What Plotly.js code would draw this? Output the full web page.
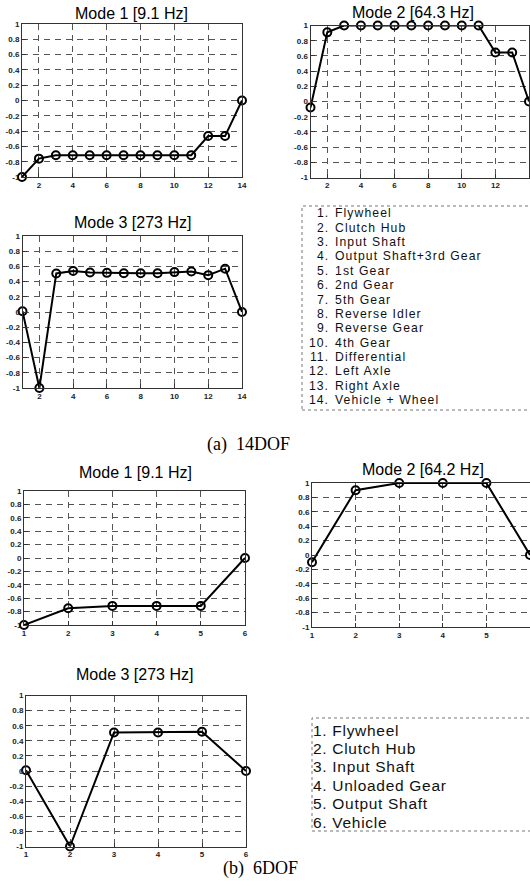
<!DOCTYPE html>
<html>
<head>
<meta charset="utf-8">
<script src="https://cdn.plot.ly/plotly-3.0.1.min.js"></script>
<style>html,body{margin:0;padding:0;background:#fff;overflow:hidden}#chart{width:530px;height:883px}</style>
</head>
<body>
<div id="chart"></div>
<script>
// ---------- data ----------
const dof14 = [1,2,3,4,5,6,7,8,9,10,11,12,13,14];
const mode1_14 = [-1, -0.76, -0.715, -0.715, -0.715, -0.715, -0.715, -0.715, -0.715, -0.715, -0.715, -0.465, -0.465, 0];
const mode2_14 = [-0.08, 0.91, 1, 1, 1, 1, 1, 1, 1, 1, 1, 0.645, 0.645, 0];
const mode3_14 = [0.01, -1, 0.507, 0.54, 0.52, 0.515, 0.51, 0.51, 0.51, 0.525, 0.533, 0.485, 0.57, 0];

const dof6 = [1,2,3,4,5,6];
const mode1_6 = [-1, -0.75, -0.715, -0.715, -0.715, 0];
const mode2_6 = [-0.1, 0.9, 1, 1, 1, 0];
const mode3_6 = [0.01, -1, 0.51, 0.51, 0.52, 0];

const titles14 = ["Mode 1 [9.1 Hz]", "Mode 2 [64.3 Hz]", "Mode 3 [273 Hz]"];
const titles6 = ["Mode 1 [9.1 Hz]", "Mode 2 [64.2 Hz]", "Mode 3 [273 Hz]"];

const names14 = ["Flywheel","Clutch Hub","Input Shaft","Output Shaft+3rd Gear","1st Gear","2nd Gear","5th Gear","Reverse Idler","Reverse Gear","4th Gear","Differential","Left Axle","Right Axle","Vehicle + Wheel"];
const names6 = ["Flywheel","Clutch Hub","Input Shaft","Unloaded Gear","Output Shaft","Vehicle"];

const yTickVals = [1,0.8,0.6,0.4,0.2,0,-0.2,-0.4,-0.6,-0.8,-1];
const yTickText = ["1","0.8","0.6","0.4","0.2","0","-0.2","-0.4","-0.6","-0.8","-1"];
const xTickVals14 = [2,4,6,8,10,12,14];
const xTickText14 = ["2","4","6","8","10","12","14"];
const xTickVals6 = [1,2,3,4,5,6];
const xTickText6 = ["1","2","3","4","5","6"];

const captionA = "(a)  14DOF";
const captionB = "(b)  6DOF";

// ---------- layout helpers ----------
const W = 530, H = 883;
const px = v => v / W;
const py = v => 1 - v / H;

// panel boxes in pixels: [left, right, top, bottom]
const boxes = [
  [22, 242, 24, 177],
  [310.5, 529, 25.5, 177.5],
  [22.5, 242, 236, 388],
  [24, 245, 491, 625],
  [312, 530, 483, 627],
  [26, 246, 695.5, 846.5]
];
const titlePos = [[131,13],[413,12],[132,223],[135,472],[423,470],[134,674]];

const tickFont = {family: "Arial, Liberation Sans, sans-serif", size: 8, color: "#222", weight: "bold"};

function xaxisCfg(i, vals, text, range) {
  const b = boxes[i];
  return {
    domain: [px(b[0]), px(b[1])], anchor: i === 0 ? 'y' : 'y' + (i + 1),
    range: range, tickvals: vals, ticktext: text,
    showgrid: true, gridcolor: '#555', griddash: '6px,5px', gridwidth: 1,
    zeroline: false, showline: true, mirror: true, linecolor: '#333', linewidth: 1,
    ticks: 'inside', ticklen: 4, tickcolor: '#333', tickfont: tickFont, fixedrange: true
  };
}
function yaxisCfg(i) {
  const b = boxes[i];
  return {
    domain: [py(b[3]), py(b[2])], anchor: i === 0 ? 'x' : 'x' + (i + 1),
    range: [-1, 1], tickvals: yTickVals, ticktext: yTickText,
    showgrid: true, gridcolor: '#555', griddash: '6px,5px', gridwidth: 1,
    zeroline: false, showline: true, mirror: true, linecolor: '#333', linewidth: 1,
    ticks: 'inside', ticklen: 4, tickcolor: '#333', tickfont: tickFont, fixedrange: true,
    ticklabelstandoff: 0
  };
}

const series = [
  [dof14, mode1_14], [dof14, mode2_14], [dof14, mode3_14],
  [dof6, mode1_6], [dof6, mode2_6], [dof6, mode3_6]
];

const data = series.map((s, i) => ({
  x: s[0], y: s[1], type: 'scatter', mode: 'lines+markers',
  xaxis: i === 0 ? 'x' : 'x' + (i + 1), yaxis: i === 0 ? 'y' : 'y' + (i + 1),
  line: {color: '#000', width: 2},
  marker: {symbol: 'circle-open', size: 8, color: '#000', line: {color: '#000', width: 2}},
  cliponaxis: false, showlegend: false, hoverinfo: 'skip'
}));

const layout = {
  width: W, height: H, margin: {l: 0, r: 0, t: 0, b: 0},
  paper_bgcolor: '#fff', plot_bgcolor: '#fff', showlegend: false,
  font: {family: "Arial, Liberation Sans, sans-serif", color: '#000'},
  annotations: [], shapes: []
};

for (let i = 0; i < 6; i++) {
  const is14 = i < 3;
  layout[i === 0 ? 'xaxis' : 'xaxis' + (i + 1)] = is14
    ? xaxisCfg(i, xTickVals14, xTickText14, [1, 14])
    : xaxisCfg(i, xTickVals6, xTickText6, [1, 6]);
  layout[i === 0 ? 'yaxis' : 'yaxis' + (i + 1)] = yaxisCfg(i);
  const t = is14 ? titles14[i] : titles6[i - 3];
  layout.annotations.push({
    text: t, xref: 'paper', yref: 'paper', x: px(titlePos[i][0]), y: py(titlePos[i][1]),
    xanchor: 'center', yanchor: 'middle', showarrow: false,
    font: {family: "Arial, Liberation Sans, sans-serif", size: 16, color: '#000'}
  });
}

// legend boxes
layout.shapes.push({type: 'rect', xref: 'paper', yref: 'paper', x0: px(302), x1: px(532), y0: py(410), y1: py(206),
  line: {color: '#777', width: 1, dash: 'dot'}});
layout.shapes.push({type: 'rect', xref: 'paper', yref: 'paper', x0: px(312), x1: px(532), y0: py(831), y1: py(718),
  line: {color: '#777', width: 1, dash: 'dot'}});

const spaced = (t, ls) => '<span style="letter-spacing:' + ls + 'px">' + t + '</span>';

// legend text 14DOF
names14.forEach((n, k) => {
  const yy = 213.3 + k * 14.38;
  layout.annotations.push({text: spaced((k + 1) + '.', 1), xref: 'paper', yref: 'paper', x: px(330), y: py(yy),
    xanchor: 'right', yanchor: 'middle', showarrow: false, borderpad: 0,
    font: {family: "Arial, Liberation Sans, sans-serif", size: 12.2, color: '#111'}});
  layout.annotations.push({text: spaced(n, 1.1), xref: 'paper', yref: 'paper', x: px(334), y: py(yy),
    xanchor: 'left', yanchor: 'middle', showarrow: false, borderpad: 0,
    font: {family: "Arial, Liberation Sans, sans-serif", size: 12.2, color: '#111'}});
});
// legend text 6DOF
names6.forEach((n, k) => {
  const yy = 730 + k * 18.4;
  layout.annotations.push({text: spaced((k + 1) + '. ' + n, 0.7), xref: 'paper', yref: 'paper', x: px(312), y: py(yy),
    xanchor: 'left', yanchor: 'middle', showarrow: false, borderpad: 0,
    font: {family: "Arial, Liberation Sans, sans-serif", size: 15.5, color: '#111'}});
});

// captions
layout.annotations.push({text: captionA, xref: 'paper', yref: 'paper', x: px(248), y: py(444),
  xanchor: 'center', yanchor: 'middle', showarrow: false,
  font: {family: "Liberation Serif, Times New Roman, serif", size: 18, color: '#000'}});
layout.annotations.push({text: captionB, xref: 'paper', yref: 'paper', x: px(260), y: py(868),
  xanchor: 'center', yanchor: 'middle', showarrow: false,
  font: {family: "Liberation Serif, Times New Roman, serif", size: 18, color: '#000'}});

Plotly.newPlot('chart', data, layout, {staticPlot: true, displayModeBar: false});
</script>
</body>
</html>
